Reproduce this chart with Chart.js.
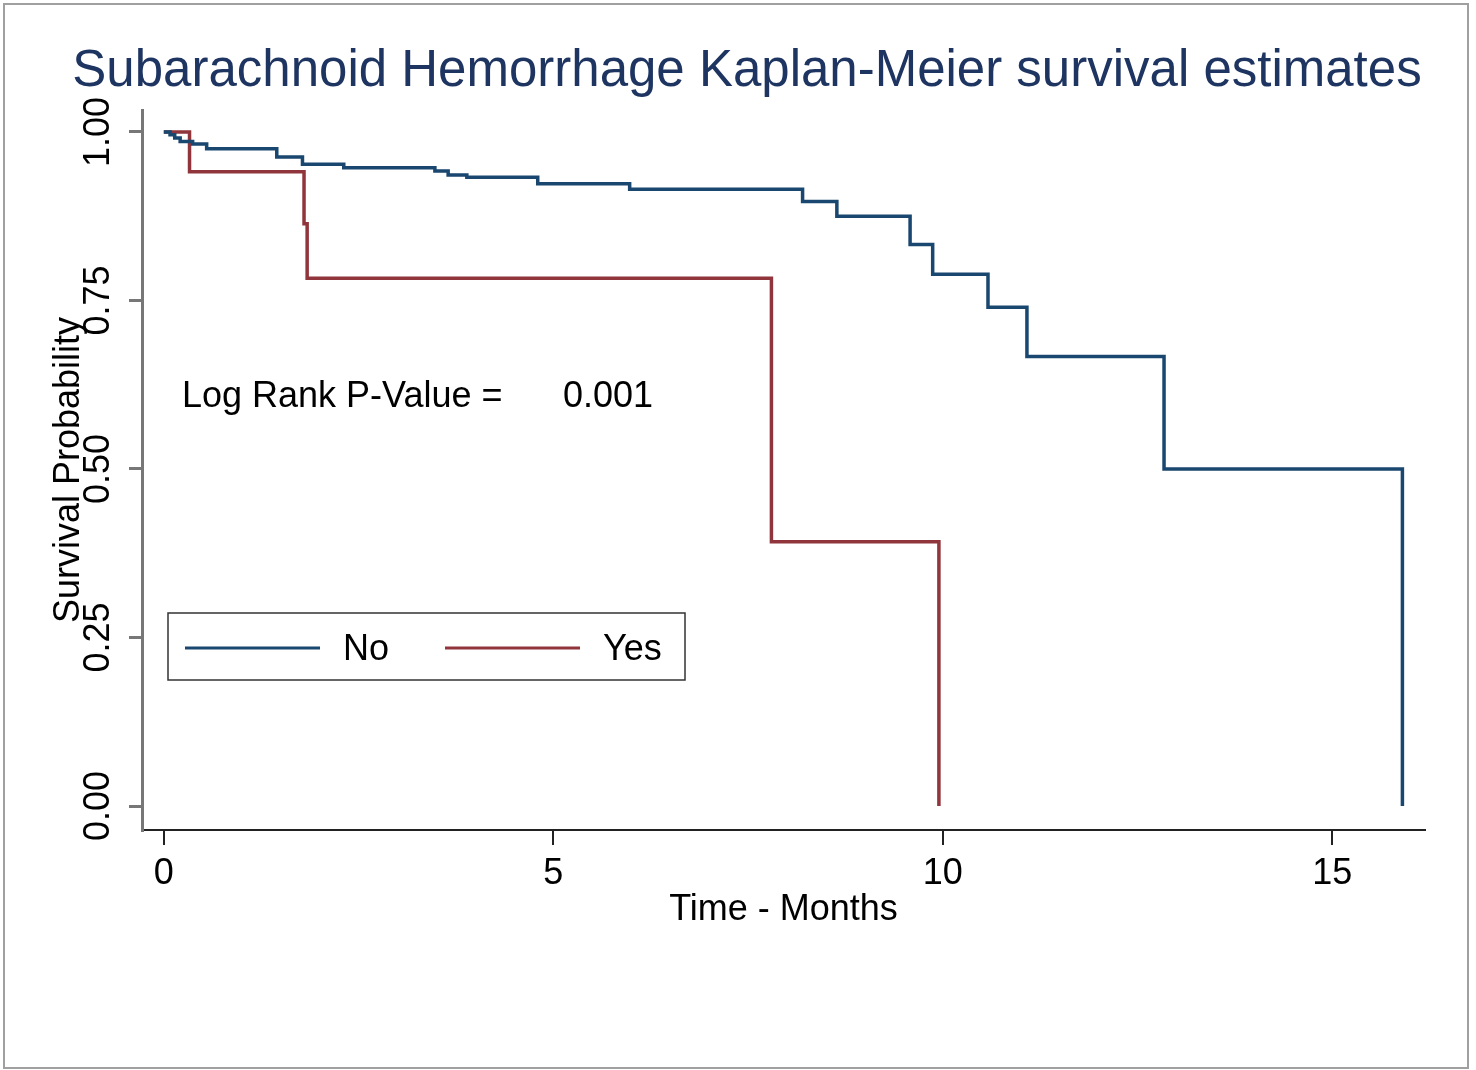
<!DOCTYPE html>
<html lang="en">

<head>
    <meta charset="UTF-8">
    <title>Kaplan-Meier</title>
    <style>
        body { margin: 0; background: #fff; }
        #wrap { width: 1476px; height: 1070px; }
    </style>
</head>

<body>
    <div id="wrap"><canvas id="kmChart" width="1476" height="1070"></canvas></div>
    <script src="https://cdn.jsdelivr.net/npm/chart.js"></script>
    <script>
        // survival steps (time in months, survival after the event)
        const noTime = [0, 0.08, 0.14, 0.21, 0.37, 0.55, 1.45, 1.78, 2.31, 3.48, 3.65, 3.89, 4.80, 5.98, 8.20, 8.64, 9.58, 9.87, 10.58, 11.08, 12.84, 15.90];
        const noSurv = [1.0, 0.996, 0.991, 0.986, 0.982, 0.975, 0.963, 0.952, 0.947, 0.942, 0.936, 0.933, 0.923, 0.915, 0.897, 0.875, 0.833, 0.789, 0.740, 0.667, 0.500, 0.0];
        const yesTime = [0, 0.33, 1.80, 1.84, 7.80, 9.95];
        const yesSurv = [1.0, 0.941, 0.864, 0.783, 0.392, 0.0];

        const xTicks = [0, 5, 10, 15];
        const yTicks = [0, 0.25, 0.5, 0.75, 1];
        const seriesNames = ['No', 'Yes'];
        const seriesColors = ['#1a476f', '#90353b'];

        const titleText = 'Subarachnoid Hemorrhage Kaplan-Meier survival estimates';
        const xTitle = 'Time - Months';
        const yTitle = 'Survival Probability';
        const pLabel = 'Log Rank P-Value =';
        const pValue = '0.001';

        const FONT = '"Liberation Sans", Arial, sans-serif';

        function toPoints(xs, ys) {
            return xs.map((x, i) => ({ x: x, y: ys[i] }));
        }

        const decor = {
            id: 'decor',
            afterDraw(chart) {
                const ctx = chart.ctx;
                const xs = chart.scales.x;
                const ys = chart.scales.y;
                const area = chart.chartArea;
                ctx.save();

                // outer frame
                ctx.strokeStyle = '#a0a0a0';
                ctx.lineWidth = 2;
                ctx.strokeRect(4, 4, 1464, 1064);

                // title
                ctx.fillStyle = '#1e3461';
                ctx.font = '51px ' + FONT;
                ctx.textAlign = 'center';
                ctx.textBaseline = 'middle';
                ctx.fillText(titleText, 747, 72);

                // x tick labels + title
                ctx.fillStyle = '#000';
                ctx.font = '36px ' + FONT;
                xTicks.forEach(v => ctx.fillText(String(v), xs.getPixelForValue(v), 874));
                ctx.fillText(xTitle, (area.left + area.right) / 2, 910);

                // y tick labels, rotated
                yTicks.forEach(v => {
                    ctx.save();
                    ctx.translate(99, ys.getPixelForValue(v));
                    ctx.rotate(-Math.PI / 2);
                    ctx.fillText(v.toFixed(2), 0, 0);
                    ctx.restore();
                });
                ctx.save();
                ctx.translate(69, 470);
                ctx.rotate(-Math.PI / 2);
                ctx.fillText(yTitle, 0, 0);
                ctx.restore();

                // log rank annotation
                ctx.textAlign = 'left';
                ctx.fillText(pLabel, 182, 397);
                ctx.fillText(pValue, 563, 397);

                // legend box
                ctx.strokeStyle = '#333';
                ctx.lineWidth = 1.5;
                ctx.strokeRect(168, 613, 517, 67);
                const lx = [185, 445];
                seriesNames.forEach((name, i) => {
                    ctx.strokeStyle = seriesColors[i];
                    ctx.lineWidth = 3;
                    ctx.beginPath();
                    ctx.moveTo(lx[i], 648);
                    ctx.lineTo(lx[i] + 135, 648);
                    ctx.stroke();
                    ctx.fillStyle = '#000';
                    ctx.fillText(name, lx[i] + 158, 650);
                });
                ctx.restore();
            }
        };

        const ctx = document.getElementById('kmChart').getContext('2d');
        new Chart(ctx, {
            type: 'line',
            data: {
                datasets: [{
                    label: seriesNames[0],
                    data: toPoints(noTime, noSurv),
                    borderColor: seriesColors[0],
                    borderWidth: 3.5,
                    stepped: true,
                    pointRadius: 0,
                    fill: false
                }, {
                    label: seriesNames[1],
                    data: toPoints(yesTime, yesSurv),
                    borderColor: seriesColors[1],
                    borderWidth: 3.5,
                    stepped: true,
                    pointRadius: 0,
                    fill: false
                }]
            },
            options: {
                responsive: false,
                animation: false,
                layout: { padding: { left: 129, top: 110, right: 51, bottom: 225 } },
                plugins: { legend: { display: false }, title: { display: false }, tooltip: { enabled: false } },
                scales: {
                    x: {
                        type: 'linear',
                        min: -0.28,
                        max: 16.19,
                        afterBuildTicks: s => { s.ticks = xTicks.map(v => ({ value: v })); },
                        ticks: { display: false },
                        grid: { drawOnChartArea: false, drawTicks: true, tickLength: 15, color: '#222', lineWidth: 2 },
                        border: { display: true, color: '#222', width: 2 }
                    },
                    y: {
                        type: 'linear',
                        min: -0.0356,
                        max: 1.0326,
                        afterBuildTicks: s => { s.ticks = yTicks.map(v => ({ value: v })); },
                        ticks: { display: false },
                        grid: { drawOnChartArea: false, drawTicks: true, tickLength: 13, color: '#777', lineWidth: 3 },
                        border: { display: true, color: '#777', width: 3 }
                    }
                }
            },
            plugins: [decor]
        });
    </script>
</body>

</html>
